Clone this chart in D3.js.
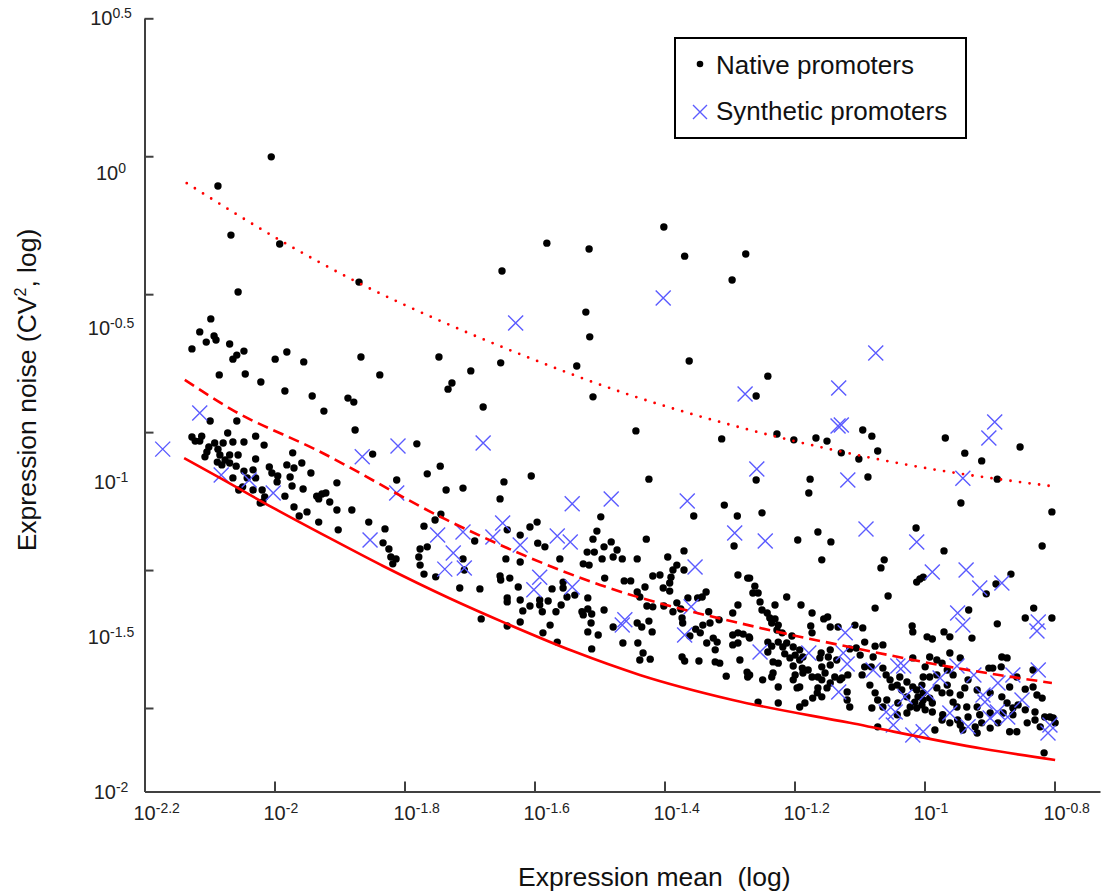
<!DOCTYPE html>
<html lang="en">
<head>
<meta charset="UTF-8">
<title>Expression noise vs mean</title>
<style>
  body { margin: 0; background: #fff; }
  svg { display: block; font-family: "Liberation Sans", Arial, sans-serif; }
  .axis path, .axis line { stroke: #404040; stroke-width: 2; }
</style>
</head>
<body>
<div id="chart"></div>
<script src="https://d3js.org/d3.v7.min.js"></script>
<script>
// log10(mean), log10(CV^2)
const nativeLog = [
  [-2.005,0.052],[-2.087,-0.042],[-2.067,-0.201],[-1.992,-0.230],[-1.870,-0.353],[-1.581,-0.227],[-1.516,-0.246],[-1.650,-0.317],[-2.056,-0.385],[-1.521,-0.450],
  [-2.098,-0.472],[-2.115,-0.514],[-1.515,-0.530],[-2.093,-0.527],[-2.090,-0.540],[-2.105,-0.547],[-2.127,-0.569],[-2.069,-0.553],[-2.047,-0.576],[-2.058,-0.589],
  [-2.064,-0.602],[-1.999,-0.602],[-1.981,-0.579],[-1.955,-0.611],[-1.867,-0.595],[-1.747,-0.595],[-1.698,-0.640],[-1.652,-0.614],[-1.535,-0.624],[-2.085,-0.653],
  [-2.045,-0.650],[-2.021,-0.676],[-1.838,-0.653],[-1.727,-0.679],[-1.733,-0.699],[-1.984,-0.705],[-1.942,-0.721],[-1.887,-0.728],[-1.878,-0.741],[-1.924,-0.770],
  [-1.679,-0.757],[-1.510,-0.724],[-2.099,-0.802],[-2.058,-0.802],
  [-1.401,-0.175],[-1.369,-0.269],[-1.275,-0.262],[-1.296,-0.346],[-1.362,-0.608],[-1.241,-0.657],[-1.259,-0.721],[-1.444,-0.834],[-1.312,-0.860],[-1.227,-0.844],
  [-1.201,-0.863],[-1.167,-0.857],[-1.150,-0.867],[-1.095,-0.831],[-1.081,-0.851],[-1.128,-0.905],[-1.101,-0.925],[-1.072,-0.899],[-0.968,-0.857],[-0.938,-0.906],
  [-0.912,-0.931],[-0.853,-0.886],[-0.888,-0.990],[-1.424,-0.990],[-1.259,-0.993],[-1.176,-0.990],[-1.178,-1.035],[-1.087,-0.983],[-1.308,-1.074],[-1.288,-1.109],
  [-1.355,-1.109],[-1.250,-1.099],[-0.944,-1.067],[-0.804,-1.096],[-1.428,-1.184],[-1.293,-1.206],[-1.195,-1.187],[-1.164,-1.161],[-1.144,-1.193],[-1.013,-1.148],
  [-0.970,-1.222],[-0.819,-1.206],[-1.370,-1.222],[-1.395,-1.242],[-1.442,-1.248],[-1.465,-1.248],[-1.158,-1.251],[-1.062,-1.251],
  [-1.876,-0.831],[-1.781,-0.876],[-1.849,-0.909],[-2.127,-0.854],[-2.122,-0.867],[-2.112,-0.851],[-2.115,-0.867],[-2.072,-0.841],[-2.064,-0.870],[-2.047,-0.870],
  [-2.029,-0.851],[-2.016,-0.880],[-2.092,-0.873],[-2.079,-0.873],[-2.101,-0.886],[-2.104,-0.902],[-2.087,-0.893],[-2.107,-0.918],[-2.084,-0.912],[-2.069,-0.912],
  [-2.056,-0.912],[-2.088,-0.935],[-2.076,-0.928],[-2.081,-0.944],[-2.069,-0.938],[-2.029,-0.925],[-2.059,-0.948],[-1.972,-0.905],[-1.958,-0.938],[-1.981,-0.944],
  [-1.970,-0.954],[-2.008,-0.951],[-2.047,-0.964],[-2.033,-0.960],[-2.004,-0.970],[-1.995,-0.980],[-1.976,-0.983],[-1.944,-0.970],[-2.064,-0.986],[-2.042,-0.986],
  [-2.029,-0.986],[-1.996,-0.999],[-1.973,-1.012],[-1.904,-1.002],[-2.049,-1.015],[-2.033,-1.025],[-2.019,-1.025],[-2.055,-1.025],[-1.956,-1.022],[-1.935,-1.045],
  [-1.927,-1.038],[-1.921,-1.035],[-1.932,-1.054],[-1.915,-1.064],[-1.984,-1.045],[-2.015,-1.048],[-2.018,-1.064],[-2.022,-1.067],[-1.970,-1.080],[-1.950,-1.096],
  [-1.962,-1.109],[-1.904,-1.090],[-1.881,-1.090],[-1.932,-1.129],[-1.902,-1.154],[-1.855,-1.129],[-1.830,-1.151],[-1.812,-0.993],[-1.833,-1.196],[-1.824,-1.216],
  [-1.821,-1.242],[-1.813,-1.248],[-1.818,-1.264],[-1.765,-0.973],[-1.736,-1.025],[-1.745,-0.948],[-1.744,-1.103],[-1.753,-1.122],[-1.770,-1.142],[-1.765,-1.209],
  [-1.776,-1.216],[-1.778,-1.242],[-1.776,-1.268],[-1.770,-1.297],[-1.752,-1.306],
  [-1.605,-0.980],[-1.647,-0.999],[-1.710,-1.019],[-1.653,-1.054],[-1.498,-1.112],[-1.596,-1.129],[-1.607,-1.145],[-1.642,-1.154],[-1.504,-1.158],[-1.622,-1.171],
  [-1.692,-1.190],[-1.510,-1.184],[-1.482,-1.193],[-1.595,-1.197],[-1.584,-1.209],[-1.519,-1.226],[-1.508,-1.226],[-1.493,-1.209],[-1.473,-1.219],[-1.644,-1.248],
  [-1.622,-1.258],[-1.561,-1.248],[-1.525,-1.264],[-1.516,-1.268],[-1.496,-1.248],[-1.479,-1.242],[-1.381,-1.268],[-1.370,-1.284],[-1.710,-1.248],[-1.708,-1.284],
  [-1.653,-1.303],[-1.652,-1.316],[-1.638,-1.310],[-1.492,-1.310],[-1.462,-1.319],[-1.452,-1.319],[-1.418,-1.303],[-1.407,-1.300],[-1.387,-1.284],[-1.390,-1.307],
  [-1.392,-1.326],[-1.287,-1.300],[-1.272,-1.310],[-1.715,-1.342],[-1.684,-1.345],[-1.625,-1.339],[-1.556,-1.323],[-1.573,-1.345],[-1.556,-1.342],[-1.550,-1.371],
  [-1.538,-1.365],[-1.518,-1.374],[-1.442,-1.355],[-1.430,-1.339],[-1.402,-1.342],[-1.392,-1.352],[-1.438,-1.371],[-1.349,-1.374],[-1.342,-1.371],[-1.336,-1.355],
  [-1.364,-1.374],[-1.642,-1.374],[-1.622,-1.381],[-1.592,-1.381],[-1.579,-1.384],[-1.642,-1.387],[-1.607,-1.400],[-1.592,-1.397],[-1.559,-1.397],[-1.427,-1.400],
  [-1.418,-1.403],[-1.401,-1.400],[-1.381,-1.390],[-1.618,-1.416],[-1.588,-1.419],[-1.567,-1.419],[-1.527,-1.419],[-1.493,-1.413],[-1.518,-1.410],[-1.525,-1.429],
  [-1.512,-1.426],[-1.387,-1.419],[-1.375,-1.410],[-1.332,-1.419],[-1.295,-1.423],[-1.287,-1.397],[-1.373,-1.439],[-1.372,-1.455],[-1.330,-1.455],[-1.341,-1.462],
  [-1.352,-1.475],[-1.316,-1.445],[-1.682,-1.442],[-1.622,-1.452],[-1.576,-1.462],[-1.513,-1.455],[-1.479,-1.468],[-1.442,-1.455],[-1.435,-1.468],[-1.424,-1.449],
  [-1.642,-1.465],[-1.587,-1.487],[-1.518,-1.484],[-1.502,-1.494],[-1.419,-1.484],[-1.345,-1.487],[-1.325,-1.504],[-1.335,-1.520],[-1.319,-1.517],[-1.295,-1.494],
  [-1.287,-1.487],[-1.279,-1.491],[-1.270,-1.500],[-1.287,-1.520],[-1.295,-1.526],[-1.565,-1.517],[-1.464,-1.520],[-1.441,-1.520],[-1.361,-1.497],[-1.322,-1.542],
  [-1.512,-1.539],[-1.433,-1.552],[-1.438,-1.575],[-1.422,-1.572],[-1.373,-1.565],[-1.369,-1.578],[-1.347,-1.578],[-1.322,-1.581],[-1.315,-1.585],[-1.284,-1.575],
  [-1.305,-1.627],[-1.273,-1.614],[-1.272,-1.630],
  [-1.067,-1.277],[-1.012,-1.323],[-1.007,-1.313],[-1.002,-1.307],[-0.867,-1.297],[-0.890,-1.329],[-0.905,-1.361],[-1.056,-1.368],[-1.076,-1.407],[-0.932,-1.413],
  [-0.832,-1.407],[-0.845,-1.439],[-0.804,-1.439],[-0.888,-1.458],[-1.019,-1.465],[-1.018,-1.484],[-0.996,-1.500],[-0.988,-1.507],[-0.970,-1.484],[-0.961,-1.500],
  [-0.927,-1.504],
  [-1.269,-1.310],[-1.261,-1.336],[-1.256,-1.358],[-1.264,-1.358],[-1.253,-1.387],[-1.212,-1.371],[-1.190,-1.397],[-1.230,-1.397],[-1.250,-1.413],[-1.242,-1.423],
  [-1.238,-1.439],[-1.230,-1.442],[-1.235,-1.455],[-1.225,-1.462],[-1.227,-1.478],[-1.219,-1.487],[-1.173,-1.423],[-1.149,-1.436],[-1.155,-1.442],[-1.175,-1.465],
  [-1.145,-1.468],[-1.173,-1.487],[-1.204,-1.497],[-1.133,-1.468],[-1.107,-1.462],[-1.095,-1.471],[-1.269,-1.504],[-1.241,-1.517],[-1.225,-1.517],[-1.212,-1.520],
  [-1.235,-1.530],[-1.218,-1.533],[-1.202,-1.533],[-1.192,-1.542],[-1.159,-1.552],[-1.145,-1.542],[-1.241,-1.549],[-1.215,-1.555],[-1.199,-1.559],[-1.187,-1.565],
  [-1.207,-1.568],[-1.192,-1.575],[-1.161,-1.568],[-1.148,-1.565],[-1.135,-1.575],[-1.115,-1.539],[-1.105,-1.536],[-1.092,-1.517],[-1.076,-1.530],[-1.064,-1.526],
  [-1.099,-1.559],[-1.233,-1.581],[-1.225,-1.585],[-1.202,-1.594],[-1.188,-1.601],[-1.179,-1.607],[-1.158,-1.597],[-1.145,-1.591],[-1.269,-1.623],[-1.233,-1.617],
  [-1.235,-1.630],[-1.199,-1.623],[-1.187,-1.617],[-1.173,-1.630],[-1.164,-1.630],[-1.153,-1.617],[-1.138,-1.630],[-1.127,-1.633],[-1.118,-1.623],[-1.096,-1.623],
  [-1.092,-1.597],[-1.082,-1.597],[-1.249,-1.639],[-1.202,-1.639],[-1.158,-1.639],[-1.145,-1.649],[-1.130,-1.639],[-1.225,-1.662],[-1.192,-1.662],[-1.196,-1.665],
  [-1.164,-1.665],[-1.150,-1.665],[-1.165,-1.681],[-1.158,-1.694],[-1.172,-1.698],[-1.119,-1.678],[-1.119,-1.704],[-1.115,-1.727],[-1.256,-1.711],[-1.225,-1.714],
  [-1.192,-1.727],[-1.184,-1.714],[-1.084,-1.656],[-1.076,-1.681],[-1.072,-1.704],[-1.081,-1.730],[-1.072,-1.791],
  [-1.079,-1.565],[-1.064,-1.601],[-1.059,-1.623],[-1.053,-1.639],[-1.050,-1.662],[-1.042,-1.656],[-1.038,-1.630],[-1.035,-1.672],[-1.027,-1.646],[-1.018,-1.662],
  [-1.012,-1.672],[-1.004,-1.656],[-1.002,-1.630],[-0.999,-1.597],[-0.992,-1.565],[-1.018,-1.568],[-0.981,-1.575],[-0.973,-1.585],[-0.961,-1.552],[-0.945,-1.568],
  [-0.965,-1.607],[-0.956,-1.623],[-0.981,-1.623],[-0.992,-1.630],[-1.002,-1.681],[-1.010,-1.694],[-1.002,-1.704],[-0.992,-1.698],[-1.015,-1.711],[-1.004,-1.720],
  [-0.988,-1.714],[-1.022,-1.727],[-1.012,-1.730],[-0.999,-1.736],[-0.988,-1.743],[-1.027,-1.746],[-1.042,-1.752],[-1.027,-1.694],[-1.041,-1.714],[-1.058,-1.704],
  [-1.064,-1.727],[-0.981,-1.665],[-0.973,-1.681],[-0.965,-1.656],[-0.961,-1.681],[-0.956,-1.711],[-0.945,-1.688],[-0.938,-1.665],[-0.933,-1.639],[-0.919,-1.672],
  [-0.950,-1.727],[-0.972,-1.752],[-0.973,-1.769],[-0.961,-1.778],[-0.949,-1.769],[-0.935,-1.727],[-0.933,-1.759],[-0.919,-1.727],[-0.915,-1.752],[-0.912,-1.778],
  [-0.922,-1.791],[-0.919,-1.811],[-0.984,-1.801],[-0.945,-1.785],[-0.941,-1.801],
  [-0.901,-1.601],[-0.895,-1.601],[-0.882,-1.597],[-0.873,-1.568],[-0.881,-1.565],[-0.858,-1.630],[-0.845,-1.669],[-0.833,-1.662],[-0.827,-1.688],[-0.819,-1.698],
  [-0.833,-1.607],[-0.869,-1.662],[-0.899,-1.681],[-0.881,-1.694],[-0.873,-1.714],[-0.864,-1.730],[-0.864,-1.752],[-0.879,-1.746],[-0.899,-1.746],[-0.887,-1.778],
  [-0.899,-1.795],[-0.869,-1.807],[-0.858,-1.807],[-0.842,-1.778],[-0.830,-1.769],[-0.830,-1.743],[-0.856,-1.720],[-0.845,-1.736],[-0.822,-1.791],[-0.815,-1.759],
  [-0.802,-1.762],[-0.799,-1.778],[-0.807,-1.759],[-0.816,-1.875]
];

const syntheticLog = [
  [-1.629,-0.485],[-2.115,-0.776],[-1.402,-0.404],[-1.075,-0.582],[-1.132,-0.695],[-1.276,-0.715],[-1.133,-0.818],[-1.128,-0.815],[-0.892,-0.805],[-0.901,-0.857],
  [-0.941,-0.987],[-1.258,-0.957],[-1.118,-0.993],[-1.365,-1.061],[-1.292,-1.164],[-1.245,-1.190],[-1.090,-1.151],[-1.012,-1.193],
  [-2.172,-0.893],[-2.082,-0.977],[-2.039,-0.993],[-2.002,-1.035],[-1.865,-0.918],[-1.810,-0.883],[-1.812,-1.035],[-1.853,-1.187],[-1.749,-1.171],[-1.738,-1.281],
  [-1.679,-0.873],
  [-1.542,-1.070],[-1.482,-1.054],[-1.649,-1.132],[-1.664,-1.177],[-1.710,-1.161],[-1.622,-1.203],[-1.565,-1.174],[-1.545,-1.193],[-1.725,-1.229],[-1.708,-1.277],
  [-1.592,-1.307],[-1.601,-1.348],[-1.542,-1.339],[-1.353,-1.274],[-1.461,-1.445],[-1.465,-1.462],[-1.359,-1.403],[-1.369,-1.494],
  [-0.988,-1.290],[-0.936,-1.284],[-0.915,-1.342],[-0.881,-1.326],[-0.949,-1.423],[-0.941,-1.462],[-0.825,-1.452],[-0.827,-1.481],[-1.122,-1.487],[-1.253,-1.549],
  [-1.178,-1.552],[-1.125,-1.552],[-1.119,-1.588],[-1.032,-1.594],[-1.041,-1.594],[-1.079,-1.607],[-0.976,-1.633],[-0.950,-1.594],[-0.924,-1.623],[-0.825,-1.607],
  [-0.864,-1.623],[-0.887,-1.649],[-1.132,-1.678],[-0.996,-1.681],[-1.030,-1.694],[-0.910,-1.688],[-0.907,-1.711],[-0.850,-1.704],[-0.888,-1.743],[-0.961,-1.746],
  [-1.059,-1.743],[-1.045,-1.743],[-1.048,-1.785],[-0.933,-1.791],[-0.872,-1.759],[-0.899,-1.762],[-1.018,-1.817],[-1.002,-1.807],[-0.807,-1.785],[-0.810,-1.811]
];

// fitted limits
const solidLog = [[-2.139,-0.922],[-2.084,-0.986],[-2.002,-1.083],[-1.915,-1.181],[-1.833,-1.271],[-1.730,-1.376],[-1.642,-1.458],[-1.541,-1.546],
  [-1.438,-1.623],[-1.295,-1.704],[-1.115,-1.778],[-0.910,-1.862],[-0.799,-1.898]];
const dashedLog = [[-2.138,-0.669],[-2.065,-0.766],[-1.935,-0.896],[-1.735,-1.122],[-1.499,-1.332],[-1.253,-1.471],[-1.115,-1.533],[-0.961,-1.597],[-0.804,-1.649]];
const dottedLog = [[-2.135,-0.033],[-1.987,-0.223],[-1.873,-0.353],[-1.730,-0.492],[-1.627,-0.582],[-1.453,-0.718],[-1.315,-0.805],[-1.161,-0.886],[-1.007,-0.951],[-0.807,-1.012]];

const xTickExp = ["-2.2", "-2", "-1.8", "-1.6", "-1.4", "-1.2", "-1", "-0.8"];
const yLabelExp = ["0.5", "0", "-0.5", "-1", "-1.5", "-2"];
const yTickExp = [0.5, 0.054, -0.392, -0.838, -1.284, -1.730];
const legendLabels = ["Native promoters", "Synthetic promoters"];

const W = 1110, H = 894;
const svg = d3.select("#chart").append("svg").attr("width", W).attr("height", H);
svg.append("rect").attr("width", W).attr("height", H).attr("fill", "#fff");

const x = d3.scaleLog().domain([10 ** -2.2, 10 ** -0.73]).range([144.5, 1100]);
const y = d3.scaleLog().domain([10 ** -2, 10 ** 0.5]).range([791.5, 18.3]);
const px = d => x(10 ** d[0]), py = d => y(10 ** d[1]);

// axes (ticks point inwards)
svg.append("g").attr("class", "axis")
  .attr("transform", `translate(0,${y.range()[0]})`)
  .call(d3.axisBottom(x).tickValues(xTickExp.map(e => 10 ** +e)).tickSizeInner(-10).tickSizeOuter(0).tickFormat(""));
svg.append("g").attr("class", "axis")
  .attr("transform", `translate(${x.range()[0]},0)`)
  .call(d3.axisLeft(y).tickValues(yTickExp.map(e => 10 ** e)).tickSizeInner(-9).tickSizeOuter(0).tickFormat(""));

function powerLabel(sel, exp) {
  sel.append("tspan").attr("font-size", 20).text("10");
  sel.append("tspan").attr("font-size", 14).attr("dy", -7).text(exp);
}
xTickExp.forEach(e => {
  svg.append("text").attr("x", x(10 ** +e) - 11).attr("y", 819.5).attr("fill", "#222")
    .call(powerLabel, e);
});
yLabelExp.forEach(e => {
  svg.append("text").attr("x", 111).attr("y", y(10 ** +e) + 7).attr("text-anchor", "middle").attr("fill", "#222")
    .call(powerLabel, e);
});

// points
svg.append("g").selectAll("circle").data(nativeLog).join("circle")
  .attr("cx", px).attr("cy", py).attr("r", 3.7).attr("fill", "#000");

const cross = "M-7.5,-7.5L7.5,7.5M-7.5,7.5L7.5,-7.5";
svg.append("g").selectAll("path").data(syntheticLog).join("path")
  .attr("transform", d => `translate(${px(d)},${py(d)})`)
  .attr("d", cross).attr("stroke", "#5b5bff").attr("stroke-width", 1.4).attr("fill", "none");

// curves
const line = d3.line().x(px).y(py).curve(d3.curveMonotoneX);
svg.append("path").datum(solidLog).attr("d", line)
  .attr("fill", "none").attr("stroke", "#ff0000").attr("stroke-width", 2.6);
svg.append("path").datum(dashedLog).attr("d", line)
  .attr("fill", "none").attr("stroke", "#ff0000").attr("stroke-width", 2.6).attr("stroke-dasharray", "11,6");
svg.append("path").datum(dottedLog).attr("d", line)
  .attr("fill", "none").attr("stroke", "#ff0000").attr("stroke-width", 2.8)
  .attr("stroke-linecap", "round").attr("stroke-dasharray", "0,9.6");

// legend
const lg = svg.append("g");
lg.append("rect").attr("x", 675).attr("y", 38).attr("width", 291).attr("height", 100)
  .attr("fill", "#fff").attr("stroke", "#000").attr("stroke-width", 2);
lg.append("circle").attr("cx", 700).attr("cy", 64).attr("r", 3.3).attr("fill", "#000");
lg.append("path").attr("transform", "translate(700,112)").attr("d", "M-7,-7L7,7M-7,7L7,-7")
  .attr("stroke", "#5b5bff").attr("stroke-width", 1.4);
legendLabels.forEach((t, i) => {
  lg.append("text").attr("x", 716).attr("y", 74 + i * 46).attr("font-size", 26).attr("fill", "#111").text(t);
});

// axis titles
svg.append("text").attr("x", 518).attr("y", 886)
  .attr("font-size", 26.5).attr("fill", "#111").style("white-space", "pre").text("Expression mean  (log)");
const yt = svg.append("text").attr("transform", "translate(36,390) rotate(-90)").attr("text-anchor", "middle")
  .attr("font-size", 26.5).attr("fill", "#111");
yt.append("tspan").text("Expression noise (CV");
yt.append("tspan").attr("font-size", 16).attr("dy", -10).text("2");
yt.append("tspan").attr("dy", 10).text(", log)");
</script>
</body>
</html>
